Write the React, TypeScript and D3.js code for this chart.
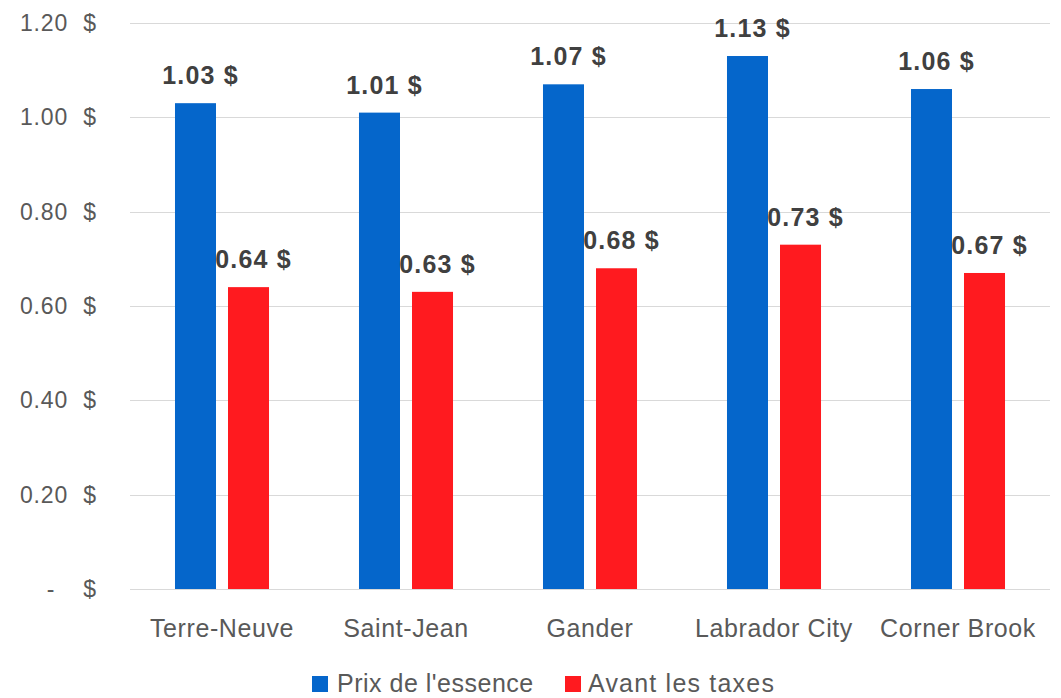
import React, { useEffect, useRef } from 'react';
import * as d3 from 'd3';

const categories = ['Terre-Neuve', 'Saint-Jean', 'Gander', 'Labrador City', 'Corner Brook'];
const seriesNames = ["Prix de l'essence", 'Avant les taxes'];
const prixEssence = [1.03, 1.01, 1.07, 1.13, 1.06];
const avantTaxes = [0.64, 0.63, 0.68, 0.73, 0.67];
const yTicks = [0, 0.2, 0.4, 0.6, 0.8, 1.0, 1.2];
const colors = ['#0566CB', '#FF1A1F'];

const FONT = '"Liberation Sans", Arial, sans-serif';

function App() {
    const svgRef = useRef<SVGSVGElement>(null);

    useEffect(() => {
        const width = 1061;
        const height = 698;
        const left = 130;
        const right = 1050;
        const top = 23;
        const bottom = 589;

        const svg = d3.select(svgRef.current)
            .attr('width', width)
            .attr('height', height);
        svg.selectAll('*').remove();

        const x = d3.scaleBand<string>()
            .domain(categories)
            .range([left, right])
            .paddingInner(0.489)
            .paddingOuter(0.2445);

        const xInner = d3.scaleBand<string>()
            .domain(seriesNames)
            .range([0, x.bandwidth()])
            .paddingInner(0.2264)
            .paddingOuter(0);

        const y = d3.scaleLinear()
            .domain([0, 1.2])
            .range([bottom, top]);

        // gridlines
        svg.append('g')
            .selectAll('line')
            .data(yTicks)
            .enter()
            .append('line')
            .attr('x1', left)
            .attr('x2', right)
            .attr('y1', d => Math.round(y(d)) + 0.5)
            .attr('y2', d => Math.round(y(d)) + 0.5)
            .attr('stroke', '#D9D9D9')
            .attr('stroke-width', 1);

        // y tick labels (accounting style: number, then $ aligned)
        const yLabels = svg.append('g')
            .attr('font-family', FONT)
            .attr('font-size', 23)
            .attr('fill', '#595959');

        yLabels.selectAll('.num')
            .data(yTicks)
            .enter()
            .append('text')
            .attr('class', 'num')
            .attr('x', d => (d === 0 ? 51 : 68))
            .attr('y', d => y(d))
            .attr('dy', '0.35em')
            .attr('text-anchor', d => (d === 0 ? 'middle' : 'end'))
            .attr('letter-spacing', 0.8)
            .text(d => (d === 0 ? '-' : d.toFixed(2)));

        yLabels.selectAll('.cur')
            .data(yTicks)
            .enter()
            .append('text')
            .attr('class', 'cur')
            .attr('x', 96)
            .attr('y', d => y(d))
            .attr('dy', '0.35em')
            .attr('text-anchor', 'end')
            .text('$');

        const series = [prixEssence, avantTaxes];

        const groups = svg.append('g')
            .selectAll('g')
            .data(categories)
            .enter()
            .append('g')
            .attr('transform', d => `translate(${x(d)},0)`);

        groups.selectAll('rect')
            .data((_, i) => seriesNames.map((s, j) => ({ s, v: series[j][i], j })))
            .enter()
            .append('rect')
            .attr('x', d => xInner(d.s)!)
            .attr('width', xInner.bandwidth())
            .attr('y', d => y(d.v))
            .attr('height', d => bottom - y(d.v))
            .attr('fill', d => colors[d.j]);

        // value labels
        groups.selectAll('text')
            .data((_, i) => seriesNames.map((s, j) => ({ s, v: series[j][i], j })))
            .enter()
            .append('text')
            .attr('x', d => xInner(d.s)! + xInner.bandwidth() / 2 + 5)
            .attr('y', d => y(d.v) - 19)
            .attr('text-anchor', 'middle')
            .attr('font-family', FONT)
            .attr('font-size', 25)
            .attr('font-weight', 'bold')
            .attr('letter-spacing', 1.2)
            .attr('fill', '#404040')
            .text(d => `${d.v.toFixed(2)} $`);

        // category labels
        svg.append('g')
            .selectAll('text')
            .data(categories)
            .enter()
            .append('text')
            .attr('x', d => x(d)! + x.bandwidth() / 2)
            .attr('y', 637)
            .attr('text-anchor', 'middle')
            .attr('font-family', FONT)
            .attr('font-size', 25)
            .attr('letter-spacing', 0.6)
            .attr('fill', '#595959')
            .text(d => d);

        // legend
        const legendX = [312, 565];
        const legend = svg.append('g')
            .selectAll('g')
            .data(seriesNames)
            .enter()
            .append('g')
            .attr('transform', (_, i) => `translate(${legendX[i]},676)`);

        legend.append('rect')
            .attr('width', 16)
            .attr('height', 16)
            .attr('fill', (_, i) => colors[i]);

        legend.append('text')
            .attr('x', (_, i) => (i === 0 ? 25 : 23))
            .attr('y', 16)
            .attr('font-family', FONT)
            .attr('font-size', 25)
            .attr('letter-spacing', (_, i) => (i === 0 ? 0.5 : 1.2))
            .attr('fill', '#595959')
            .text(d => d);
    }, []);

    return (
        <svg ref={svgRef} style={{ position: 'absolute', left: 0, top: 0, display: 'block', background: '#fff' }}></svg>
    );
}

export default App;
